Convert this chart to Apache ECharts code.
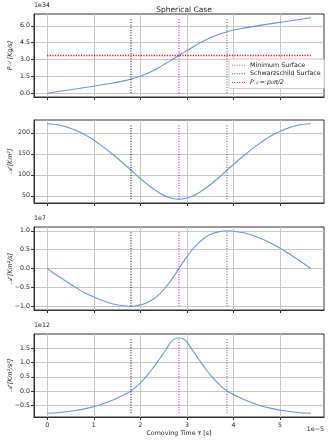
<!DOCTYPE html>
<html>
<head>
<meta charset="utf-8">
<title>Spherical Case</title>
<script src="https://cdn.jsdelivr.net/npm/echarts@6/dist/echarts.min.js"></script>
<style>
    html, body { margin: 0; padding: 0; background: #fff; }
    #chart { width: 329px; height: 441px; }
</style>
</head>
<body>
<div id="chart"></div>
<script>
// comoving time, units of 1e-5 s
var tau = [0, 0.28, 0.57, 0.85, 1.13, 1.41, 1.70, 1.80, 1.98, 2.12, 2.26, 2.41, 2.55, 2.69, 2.83,
           2.97, 3.11, 3.25, 3.40, 3.54, 3.68, 3.86, 3.96, 4.25, 4.53, 4.81, 5.09, 5.38, 5.66];
// P_A, units of 1e34 Kg/s
var pA = [0, 0.18, 0.36, 0.53, 0.71, 0.91, 1.14, 1.26, 1.49, 1.71, 1.98, 2.31, 2.66, 3.00, 3.36,
          3.72, 4.06, 4.41, 4.74, 5.01, 5.23, 5.46, 5.58, 5.81, 6.01, 6.19, 6.36, 6.54, 6.71];
// A, Km^2
var area = [221.5, 218, 208, 193, 172.5, 148.5, 121, 111, 93, 80, 68, 57, 49, 43.8, 42,
            43.8, 49, 57, 68, 80, 93, 111, 121, 148.5, 172.5, 193, 208, 218, 221.5];
// dA/dtau, units of 1e7 Km^2/s
var areaDot = [0, -0.24, -0.47, -0.67, -0.82, -0.94, -0.995, -1.0, -0.97, -0.92, -0.83, -0.68, -0.49, -0.26, 0,
               0.26, 0.49, 0.68, 0.83, 0.92, 0.97, 1.0, 0.995, 0.94, 0.82, 0.67, 0.47, 0.24, 0];
// d2A/dtau2, units of 1e12 Km^2/s^2
var areaDdot = [-0.77, -0.745, -0.685, -0.60, -0.48, -0.31, -0.08, 0.0, 0.25, 0.5, 0.78, 1.12, 1.45, 1.77, 1.86,
                1.77, 1.45, 1.12, 0.78, 0.5, 0.25, 0.0, -0.08, -0.31, -0.48, -0.60, -0.685, -0.745, -0.77];

var tauMinSurface = 2.83;
var tauSchw1 = 1.80;
var tauSchw2 = 3.86;
var pHalf = 3.355;   // p0*pi/2

var xTicks = [0, 1, 2, 3, 4, 5];
var yTicks = [
    [0, 1.5, 3.0, 4.5, 6.0],
    [50, 100, 150, 200],
    [-1.0, -0.5, 0, 0.5, 1.0],
    [-0.5, 0, 0.5, 1.0, 1.5]
];
var offsets = ['1e34', '', '1e7', '1e12'];

var font = 'DejaVu Sans';
var fs = 6.3;
var curveColor = '#6495ED';
var tops = [14, 120, 227, 334];
// dotted legend sample
var dotIcon = 'path://M0,0h1v1h-1zM2.6,0h1v1h-1zM5.2,0h1v1h-1zM7.8,0h1v1h-1zM10.4,0h1v1h-1zM13,0h1v1h-1z';

function pad(arr) {
    var mn = Math.min.apply(null, arr), mx = Math.max.apply(null, arr);
    var d = (mx - mn) * 0.05;
    return {min: mn - d, max: mx + d, lo: mn, hi: mx};
}
function fmt(v, dec) {
    var s = v.toFixed(dec);
    if (Math.abs(v) < 1e-9) s = (0).toFixed(dec);
    return s.replace('-', '\u2212');
}
function vline(name, x, yr, color, i) {
    return {
        name: name, type: 'line', xAxisIndex: i, yAxisIndex: i, symbol: 'none', silent: true,
        data: [[x, yr.lo], [x, yr.hi]],
        itemStyle: {color: color},
        lineStyle: {color: color, width: 1, type: [1, 1.6]}, z: 4
    };
}

var panels = [pA, area, areaDot, areaDdot];
var xr = pad(tau);

var grids = [], xAxes = [], yAxes = [], series = [];
var names = [
    '{i|P}{s|\uD835\uDC9C} {i|[Kg/s]}',
    '{i|\uD835\uDC9C [Km\u00b2]}',
    '{i|\uD835\uDC9C\u0307 [Km\u00b2/s]}',
    '{i|\uD835\uDC9C\u0308 [Km\u00b2/s\u00b2]}'
];
var rich = {
    i: {fontFamily: font, fontSize: fs, fontStyle: 'italic', color: '#222'},
    s: {fontFamily: font, fontSize: fs * 0.75, fontStyle: 'italic', color: '#222'}
};

panels.forEach(function (vals, i) {
    var yr = pad(vals);
    var dec = i === 1 ? 0 : 1;
    grids.push({left: 34, right: 5, top: tops[i], height: 83, show: true,
        containLabel: false, outerBoundsMode: 'none',
        borderColor: '#333', borderWidth: 1, backgroundColor: 'transparent'});
    xAxes.push({
        type: 'value', gridIndex: i, min: xr.min, max: xr.max,
        name: i === 3 ? 'Comoving Time \u03c4 [s]' : '',
        nameLocation: 'middle', nameGap: 13, nameMoveOverlap: false,
        nameTextStyle: {fontFamily: font, fontSize: fs, color: '#222'},
        axisLine: {show: true, onZero: false, lineStyle: {color: '#333', width: 1}},
        axisTick: {show: true, length: 3, customValues: xTicks, lineStyle: {color: '#333'}},
        axisLabel: {show: i === 3, customValues: xTicks, margin: 5,
            fontFamily: font, fontSize: fs, color: '#222'},
        splitLine: {show: true, lineStyle: {color: '#c8c8c8', width: 1}}
    });
    yAxes.push({
        type: 'value', gridIndex: i, min: yr.min, max: yr.max,
        name: names[i], nameLocation: 'middle', nameRotate: 90, nameGap: 20, nameMoveOverlap: false,
        nameTextStyle: {rich: rich, lineHeight: 8},
        axisLine: {show: true, onZero: false, lineStyle: {color: '#333', width: 1}},
        axisTick: {show: true, length: 3, customValues: yTicks[i], lineStyle: {color: '#333'}},
        axisLabel: {customValues: yTicks[i], margin: 4, fontFamily: font, fontSize: fs, color: '#222',
            formatter: function (v) { return fmt(v, dec); }},
        splitLine: {show: true, lineStyle: {color: '#c8c8c8', width: 1}}
    });
    var curve = {
        type: 'line', xAxisIndex: i, yAxisIndex: i, symbol: 'none', smooth: 0.35, silent: true,
        data: tau.map(function (t, k) { return [t, vals[k]]; }),
        lineStyle: {color: curveColor, width: 1.1}, z: 3
    };
    if (i === 0) {
        curve.markLine = {
            silent: true, symbol: 'none', label: {show: false},
            lineStyle: {color: '#ff0000', width: 1.4, type: [1.2, 1.4], opacity: 1},
            data: [[{coord: [tau[0], pHalf]}, {coord: [tau[tau.length - 1], pHalf]}]]
        };
    }
    series.push(curve);
    series.push(vline('', tauSchw1, yr, '#000', i));
    series.push(vline('Minimum Surface', tauMinSurface, yr, '#bf00bf', i));
    series.push(vline('Schwarzschild Surface', tauSchw2, yr, '#555', i));
});

// legend entry for the p0*pi/2 reference line
series.push({name: 'pA', type: 'line', xAxisIndex: 0, yAxisIndex: 0, symbol: 'none',
    data: [], itemStyle: {color: '#ff0000'}, lineStyle: {color: '#ff0000'}});

var graphics = [];
offsets.forEach(function (t, i) {
    if (!t) return;
    graphics.push({type: 'text', left: 34, top: tops[i] - 12,
        style: {text: t, fontFamily: font, fontSize: fs, fill: '#222'}});
});
graphics.push({type: 'text', right: 5, top: 426,
    style: {text: '1e\u22125', fontFamily: font, fontSize: fs, fill: '#222'}});

var chart = echarts.init(document.getElementById('chart'), null, {renderer: 'canvas'});
chart.setOption({
    animation: false,
    backgroundColor: '#fff',
    title: {text: 'Spherical Case', left: 179, textAlign: 'center', top: 1,
        textStyle: {fontFamily: font, fontSize: 7.5, fontWeight: 'normal', color: '#222'}},
    legend: {
        data: [
            {name: 'Minimum Surface', icon: dotIcon},
            {name: 'Schwarzschild Surface', icon: dotIcon},
            {name: 'pA', icon: dotIcon}
        ],
        orient: 'vertical', left: 229, top: 59, itemWidth: 13, itemHeight: 1, itemGap: 2.5,
        padding: [3, 4, 3, 3],
        backgroundColor: 'rgba(255,255,255,0.8)', borderColor: '#ccc', borderWidth: 1, borderRadius: 2,
        textStyle: {fontFamily: font, fontSize: fs, color: '#222', lineHeight: 6.2,
            rich: {
                i: {fontFamily: font, fontSize: fs, fontStyle: 'italic', color: '#222'},
                s: {fontFamily: font, fontSize: fs * 0.7, fontStyle: 'italic', color: '#222'}
            }},
        formatter: function (n) {
            return n === 'pA' ? '{i|P}{s|\uD835\uDC9C}{i| = p}{s|0}{i|\u03c0/2}' : n;
        }
    },
    grid: grids,
    xAxis: xAxes,
    yAxis: yAxes,
    series: series,
    graphic: graphics
});
</script>
</body>
</html>
